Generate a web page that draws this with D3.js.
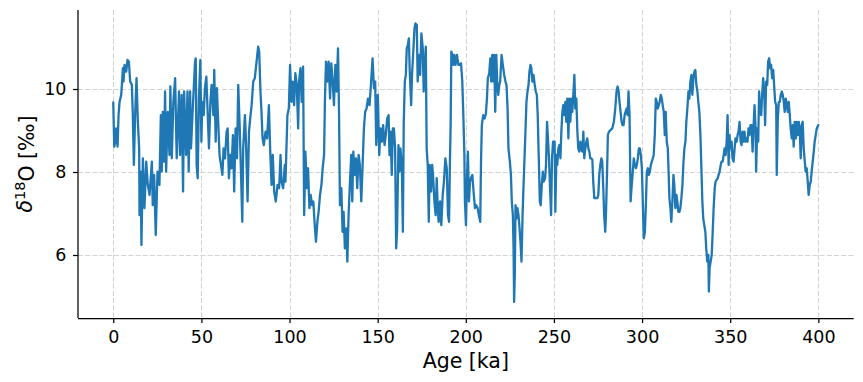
<!DOCTYPE html>
<html>
<head>
<meta charset="utf-8">
<script src="https://cdn.jsdelivr.net/npm/d3@7"></script>
<style>
  html, body { margin: 0; padding: 0; background: #fff; }
  svg { display: block; font-family: "DejaVu Sans", sans-serif; }
</style>
</head>
<body>
<svg id="chart" width="863" height="382"></svg>
<script>
// Age (ka) of each sample
const ageKa = [
  0, 0.56, 1.13, 1.69, 2.45, 3.01, 3.58, 4.52, 4.9, 5.46,
  5.84, 6.4, 7.35, 8.1, 8.86, 9.6, 10.56, 11.1, 11.7, 12.4,
  13.2, 13.95, 14.7, 14.9, 15.5, 16.0, 16.8, 17.7, 18.7, 19.6,
  20.6, 21.9, 22.4, 23.2, 24.1, 25.1, 26.2, 27.0, 27.5, 28.1,
  28.8, 29.4, 30.0, 30.9, 31.9, 32.4, 33.2, 34.1, 35.1, 36.0,
  37.3, 37.9, 38.8, 39.6, 40.2, 41.3, 42.1, 42.8, 43.6, 44.1,
  45.1, 46.4,
  46.8, 47.3, 47.9, 48.6, 49.4, 50.0, 50.5, 51.3, 52.0, 52.8,
  53.6, 54.3, 55.1, 55.8, 56.8, 57.3, 58.1, 58.8, 59.6, 60.3,
  61.1, 61.9, 62.6, 63.4, 64.3, 64.9, 65.6, 66.4, 67.1, 67.9,
  68.6, 69.4, 70.2, 70.9, 71.7, 72.4, 73.2, 73.7, 74.7, 75.3,
  76.2, 77.0, 77.7, 78.5, 79.4, 80.3, 81.3, 82.2, 82.8, 83.5,
  84.1, 84.7, 85.4, 86.4, 87.3, 88.3, 89.0, 89.8, 90.5, 91.3,
  92.2, 93.2, 94.1, 94.9, 95.4, 96.4, 97.3,
  97.7, 98.8, 99.6, 100.3, 101.1, 101.8, 102.6, 103.3, 104.1, 104.9,
  105.4, 106.2, 106.9, 107.7, 108.3, 109.0, 109.8, 110.5, 111.3, 112.0,
  112.8, 113.5, 114.3, 115.0, 115.8, 116.5, 117.3, 118.1, 118.8, 119.6,
  120.1, 120.7, 121.5, 122.2, 123.0, 123.7, 124.5, 125.2, 126.0, 126.7,
  127.5, 128.1, 128.6, 129.4, 130.1, 130.7, 131.4, 132.2, 132.8, 133.5,
  134.3, 135.0, 135.6, 136.2, 136.9, 137.7, 138.4, 139.2, 139.9, 140.7,
  141.4, 142.2, 142.9, 143.7, 144.5, 145.4, 146.3, 147.1, 147.9,
  148.6, 149.2, 150.1, 150.9, 151.6, 152.4, 153.1, 153.9, 154.6, 155.4,
  156.2, 156.7, 157.3, 158.0, 158.6, 159.2, 159.9, 160.5, 161.0, 161.8,
  162.4, 162.9, 163.7, 164.3, 164.8, 165.4, 166.0, 166.5, 167.1, 167.7,
  168.2, 169.0, 169.5, 170.3, 170.9, 171.4, 172.2, 172.7, 173.3, 174.1,
  174.8, 175.6, 176.1, 176.7, 177.3, 177.8, 178.4, 179.0, 179.5, 180.3,
  180.9, 181.4, 182.2, 182.9, 183.5, 184.1, 184.6, 185.4, 186.1, 186.9,
  187.6, 188.4, 189.2, 189.9, 190.5, 191.0, 191.4, 191.8, 192.4, 192.9,
  193.5, 194.2, 195.0, 195.8, 196.5, 197.3, 198.0, 198.6, 199.2,
  199.5, 200.1, 200.7, 201.2, 201.8, 202.4, 202.9, 203.7, 204.4, 205.2,
  205.9, 206.7, 207.4, 208.2, 208.6, 209.1, 209.9, 210.7, 211.4, 212.0,
  212.5, 213.3, 213.9, 214.4, 215.0, 215.6, 216.1, 216.7, 217.3, 217.8,
  218.4, 219.0, 219.5, 220.3, 221.0, 221.8, 222.5, 223.1, 223.7, 224.2,
  225.0, 225.6, 226.1, 226.7, 227.1, 227.4, 227.8, 228.2, 228.8, 229.3,
  229.9, 230.5, 231.0, 231.6, 232.2, 232.7, 233.3, 233.9, 234.4, 235.0,
  235.6, 236.1, 236.7, 237.2, 237.8, 238.4, 239.1, 239.7, 240.3, 240.8,
  241.4, 242.0, 242.5, 243.1, 243.7, 244.2, 245.0, 245.5, 246.1, 246.7,
  247.2, 247.8, 248.4, 248.9, 249.5,
  250.4, 250.8, 251.4, 251.9, 252.5, 253.1, 253.7, 254.2, 254.8, 255.3,
  255.9, 256.5, 257.0, 257.6, 258.2, 258.8, 259.3, 259.9, 260.4, 261.0,
  261.6, 262.1, 262.7, 263.3, 263.8, 264.4, 265.0, 265.5, 266.1, 266.7,
  267.2, 267.8, 268.4, 268.9, 269.5, 270.1, 270.6, 271.2, 271.8, 272.3,
  272.9, 273.6, 274.6, 275.2, 275.7, 276.3, 276.9, 277.4, 278.0, 278.5,
  279.1, 279.5, 280.1, 280.6, 281.2, 282.1, 283.1, 284.0, 284.8, 285.5,
  286.1, 286.7, 287.2, 287.8, 288.4, 288.9, 289.5, 290.1, 290.6, 291.2,
  291.8, 292.3, 292.9, 293.5, 294.0, 294.6, 295.3, 295.9, 296.5, 297.0,
  297.6, 298.2, 298.7, 299.3, 299.9, 300.4,
  301.0, 301.6, 302.1, 302.7, 303.3, 303.8, 304.4, 305.0, 305.5, 306.1,
  306.6, 307.2, 307.8, 308.3, 308.9, 309.5, 310.0, 310.6, 311.2, 311.7,
  312.3, 312.9, 313.4, 314.0, 314.6, 315.1, 315.5, 316.1, 316.6, 317.2,
  317.8, 318.3, 318.9, 319.5, 320.0, 320.6, 321.2, 321.7, 322.3, 322.9,
  323.4, 324.0, 324.6, 325.1, 325.7, 326.3, 326.8, 327.4, 328.0, 328.5,
  329.1, 329.7, 330.2, 330.8, 331.4, 331.9, 332.5, 333.1, 333.6, 334.2,
  334.7, 335.3, 335.9, 336.4, 337.0, 337.6, 337.9, 338.3, 338.9, 339.5,
  340.0, 340.6, 341.2, 341.7, 342.3, 342.9, 343.4, 344.0, 344.6, 345.1,
  345.7, 346.3, 346.8, 347.4, 348.0, 348.5, 349.1, 349.6, 350.2, 350.8,
  351.3,
  351.9, 352.5, 353.0, 353.6, 354.2, 354.7, 355.3, 355.9, 356.4, 357.0,
  357.6, 358.1, 358.7, 359.3, 359.8, 360.4, 360.9, 361.5, 362.1, 362.7,
  363.2, 363.8, 364.4, 364.7, 365.3, 365.9, 366.4, 367.0, 367.6, 368.1,
  368.7, 369.3, 369.8, 370.4, 371.0, 371.5, 372.1, 372.7, 373.2, 373.8,
  374.4, 374.9, 375.5, 376.1, 376.4, 377.0, 377.6, 378.1, 378.7, 379.3,
  379.8, 380.4, 380.9, 381.5, 382.1, 382.6, 383.2, 383.8, 384.3, 384.9,
  385.5, 386.0, 386.6, 387.2, 387.7, 388.3, 388.9, 389.4, 390.0, 390.6,
  391.1, 391.7, 392.3, 392.8, 393.4, 394.0, 394.5, 395.1, 395.7, 396.2,
  396.8, 397.4, 397.9, 398.5, 399.1, 400.0
];

// delta-18O (per mil) of each sample
const d18O = [
  9.68, 8.61, 8.73, 9.05, 8.61, 9.37, 9.69, 9.86, 10.1, 10.5,
  10.18, 10.58, 10.42, 10.7, 10.66, 10.18, 10.1, 9.37, 8.17, 9.37,
  10.26, 9.21, 8.57, 6.96, 8.01, 6.24, 8.33, 7.13, 8.25, 7.69,
  7.45, 8.25, 7.2, 7.93, 6.48, 8.01, 7.69, 9.37, 8.01, 9.45,
  8.25, 9.94, 8.01, 9.45, 8.41, 10.06, 8.33, 9.69, 10.26, 8.33,
  9.94, 8.41, 9.86, 7.53, 9.94, 8.41, 9.94, 8.01, 9.94, 8.57,
  9.53, 10.66,
  10.74, 8.17, 7.85, 9.77, 10.7, 8.73, 9.69, 9.37, 10.02, 10.3,
  9.37, 8.57, 9.69, 10.1, 9.37, 10.46, 8.73, 10.02, 9.13, 8.41,
  8.17, 7.93, 8.57, 8.33, 8.97, 9.05, 7.85, 8.41, 8.09, 8.89,
  7.53, 9.05, 8.33, 10.1, 9.13, 8.09, 6.8, 8.57, 9.37, 8.73,
  7.29, 8.97, 9.29, 9.61, 10.18, 10.26, 10.66, 11.02, 10.9, 9.94,
  9.45, 8.81, 8.65, 8.97, 8.81, 9.61, 8.57, 7.69, 8.41, 7.53,
  7.29, 7.69, 7.61, 8.41, 7.77, 7.61, 8.17,
  7.77, 9.37, 9.53, 10.58, 9.69, 10.18, 9.61, 10.38, 10.1, 9.05,
  10.18, 10.5, 9.69, 10.54, 6.96, 8.49, 7.61, 8.09, 7.13, 7.45,
  7.2, 7.29, 6.72, 6.32, 6.8, 7.04, 7.45, 7.69, 8.09, 8.41,
  9.77, 10.66, 10.18, 10.66, 9.77, 10.62, 10.18, 9.61, 10.58, 9.94,
  10.98, 9.37, 7.2, 7.61, 6.56, 7.04, 6.16, 6.64, 5.84, 6.96,
  7.77, 8.41, 7.29, 8.49, 7.93, 8.33, 7.61, 8.41, 8.17, 7.29,
  8.09, 9.05, 9.45, 9.53, 9.77, 9.61, 10.18, 10.74, 10.02,
  10.18, 8.65, 9.86, 8.41, 9.05, 8.73, 9.13, 8.65, 8.89, 9.29,
  9.37, 8.41, 8.97, 7.93, 9.05, 9.05, 8.57, 6.16, 6.56, 8.65,
  8.01, 8.57, 8.17, 6.56, 9.21, 10.18, 10.34, 10.98, 11.06, 11.22,
  10.42, 9.61, 10.34, 10.98, 11.46, 11.58, 11.54, 10.18, 10.82, 10.34,
  11.34, 10.98, 9.94, 10.58, 11.02, 8.57, 8.17, 6.8, 8.17, 7.53,
  8.17, 7.93, 7.29, 6.96, 7.85, 7.13, 6.8, 7.29, 6.72, 7.45,
  7.77, 8.33, 8.09, 6.96, 6.8, 8.25, 9.13, 10.9, 10.82, 10.58,
  10.82, 10.58, 10.82, 10.58, 10.58, 10.62, 10.18, 9.37, 8.41,
  7.29, 6.72, 7.93, 8.49, 7.29, 7.77, 7.85, 7.93, 7.53, 7.13,
  7.2, 7.13, 6.96, 6.8, 8.17, 9.13, 9.37, 9.29, 9.41, 9.77,
  10.26, 10.38, 10.74, 10.18, 10.82, 10.18, 10.82, 9.45, 10.82, 10.18,
  9.86, 10.1, 10.18, 10.82, 10.58, 10.34, 10.18, 10.1, 9.53, 8.57,
  8.25, 7.93, 7.29, 6.96, 6.16, 4.87, 5.52, 7.2, 6.88, 7.13,
  6.96, 6.64, 6.32, 5.84, 6.96, 7.61, 8.33, 9.05, 9.69, 9.94,
  10.1, 10.42, 10.58, 10.5, 10.18, 10.34, 10.1, 9.94, 9.86, 9.37,
  8.33, 7.29, 7.2, 7.69, 8.01, 7.77, 7.85, 8.17, 9.21, 8.73,
  8.33, 7.61, 6.96, 8.33, 8.73,
  8.73, 7.04, 8.41, 8.17, 8.57, 8.65, 8.33, 8.97, 9.45, 9.61,
  9.37, 9.69, 9.21, 9.77, 8.81, 9.77, 9.21, 9.77, 9.45, 9.86,
  10.34, 9.53, 9.77, 8.97, 8.57, 8.49, 8.73, 8.57, 8.49, 8.97,
  8.33, 8.57, 8.73, 8.81, 8.57, 8.49, 8.33, 8.33, 8.29, 7.77,
  7.37, 7.37, 7.37, 7.45, 7.93, 8.17, 8.33, 8.25, 7.61, 6.96,
  6.56, 6.96, 7.93, 8.89, 8.97, 9.01, 9.05, 9.21, 9.53, 9.94,
  10.06, 9.94, 9.69, 9.45, 9.21, 9.13, 9.13, 9.37, 9.45, 9.53,
  9.37, 9.94, 9.37, 7.29, 7.61, 7.93, 8.33, 8.17, 8.09, 8.17,
  8.33, 8.57, 8.57, 8.41, 8.09, 7.29,
  6.4, 6.56, 7.13, 8.01, 8.09, 7.93, 8.01, 8.17, 8.25, 8.33,
  8.41, 8.89, 9.77, 9.69, 9.53, 9.61, 9.69, 9.86, 9.77, 9.61,
  9.45, 8.89, 9.45, 8.73, 8.57, 7.93, 7.37, 7.13, 6.8, 7.29,
  7.93, 7.69, 7.13, 7.45, 7.29, 7.04, 7.04, 7.13, 7.37, 7.69,
  8.17, 8.57, 8.73, 9.21, 9.53, 9.94, 9.77, 10.18, 10.34, 9.86,
  10.26, 10.42, 10.46, 10.1, 9.94, 9.69, 9.45, 8.89, 8.17, 7.29,
  6.88, 6.72, 6.56, 6.16, 5.84, 6.0, 5.12, 5.68, 5.84, 6.0,
  6.48, 7.13, 7.61, 7.77, 7.81, 7.85, 7.93, 8.01, 8.17, 8.25,
  8.25, 8.41, 8.57, 8.41, 8.73, 9.37, 8.17, 8.89, 8.57, 8.73,
  8.33,
  8.25, 8.57, 8.81, 8.73, 8.89, 8.97, 9.21, 8.73, 8.65, 8.97,
  8.73, 8.97, 8.73, 8.81, 8.73, 9.05, 8.89, 9.13, 9.13, 8.49,
  9.05, 9.61, 9.05, 8.01, 9.05, 8.73, 9.94, 9.45, 9.37, 9.86,
  10.26, 9.94, 9.13, 10.18, 10.1, 10.66, 10.74, 10.5, 10.58, 10.26,
  10.46, 10.1, 9.69, 9.61, 7.93, 9.29, 9.69, 9.69, 9.86, 9.94,
  9.86, 9.69, 9.45, 9.77, 9.61, 9.45, 9.69, 9.37, 9.05, 8.81,
  9.13, 8.61, 9.21, 8.81, 9.21, 8.89, 9.21, 9.05, 8.33, 9.13,
  9.21, 8.57, 8.25, 8.01, 8.09, 7.77, 7.45, 7.69, 7.77, 8.01,
  8.25, 8.49, 8.73, 8.89, 9.05, 9.13
];

const xTicks = [0, 50, 100, 150, 200, 250, 300, 350, 400];
const yTicks = [6, 8, 10];

const svg = d3.select("#chart");
const plotL = 78, plotR = 853.6, plotT = 10, plotB = 318;

const x = d3.scaleLinear().domain([-20, 420]).range([plotL, plotR]);
const y = d3.scaleLinear().domain([4.482, 11.904]).range([plotB, plotT]);

const data = ageKa.map((a, i) => ({ age: a, v: d18O[i] }));

// grid
const grid = svg.append("g").attr("stroke", "#d3d3d3").attr("stroke-width", 1)
  .attr("stroke-dasharray", "5,2.2");
grid.selectAll("line.gx").data(xTicks).join("line").attr("class", "gx")
  .attr("x1", d => Math.round(x(d)) + 0.5).attr("x2", d => Math.round(x(d)) + 0.5)
  .attr("y1", plotT).attr("y2", plotB);
grid.selectAll("line.gy").data(yTicks).join("line").attr("class", "gy")
  .attr("y1", d => Math.round(y(d)) + 0.5).attr("y2", d => Math.round(y(d)) + 0.5)
  .attr("x1", plotL).attr("x2", plotR);

// line
svg.append("path")
  .datum(data)
  .attr("fill", "none")
  .attr("stroke", "#1f77b4")
  .attr("stroke-width", 2.3)
  .attr("stroke-linejoin", "round")
  .attr("stroke-linecap", "round")
  .attr("d", d3.line().x(d => x(d.age)).y(d => y(d.v)));

// axes
const xAxis = svg.append("g").attr("transform", `translate(0,${plotB})`)
  .call(d3.axisBottom(x).tickValues(xTicks).tickSize(5).tickPadding(8).tickSizeOuter(0).tickFormat(d3.format("d")));
const yAxis = svg.append("g").attr("transform", `translate(${plotL},0)`)
  .call(d3.axisLeft(y).tickValues(yTicks).tickSize(5).tickPadding(6.5).tickSizeOuter(0).tickFormat(d3.format("d")));

[xAxis, yAxis].forEach(g => {
  g.select(".domain").attr("stroke", "#000").attr("stroke-width", 1.25);
  g.selectAll(".tick line").attr("stroke", "#000").attr("stroke-width", 1.25);
  g.selectAll(".tick text").attr("fill", "#000").style("font-size", "17.5px")
    .style("font-family", "'DejaVu Sans', sans-serif");
});
xAxis.select(".domain").attr("d", `M${plotL},0.5H${plotR}`);
yAxis.select(".domain").attr("d", `M0,${plotT}V${plotB}`);

// axis labels
svg.append("text")
  .attr("x", (plotL + plotR) / 2).attr("y", 368)
  .attr("text-anchor", "middle")
  .style("font-size", "20.5px")
  .text("Age [ka]");

const yl = svg.append("text")
  .attr("transform", `translate(31.5,${(plotT + plotB) / 2}) rotate(-90)`)
  .attr("text-anchor", "middle")
  .style("font-size", "20.5px");
yl.append("tspan").style("font-style", "italic").text("δ");
yl.append("tspan").attr("dy", "-0.45em").style("font-size", "14.5px").text("18");
yl.append("tspan").attr("dy", "0.45em").text("O [‰]");
</script>
</body>
</html>
